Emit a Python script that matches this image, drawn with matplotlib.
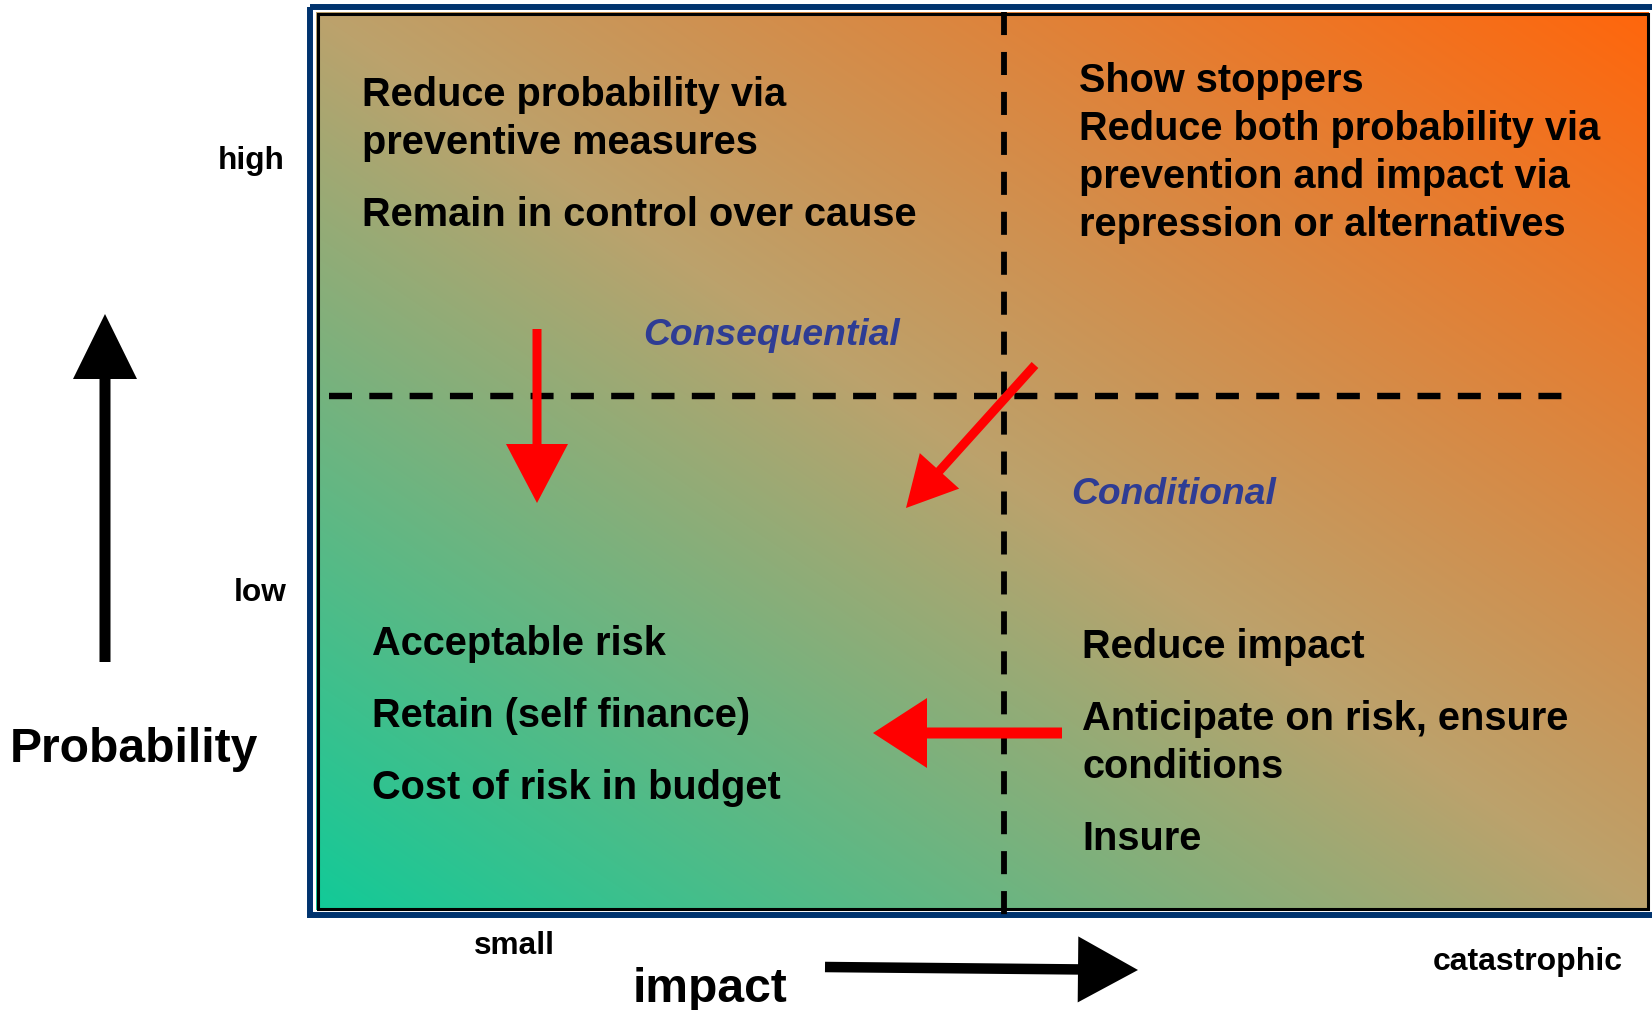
import numpy as np
import matplotlib.pyplot as plt
from matplotlib.patches import FancyArrow, Rectangle
from matplotlib.lines import Line2D

plt.rcParams['font.family'] = ['Liberation Sans', 'DejaVu Sans']

# ---- content ----
q_top_left = ["Reduce probability via", "preventive measures", "Remain in control over cause"]
q_top_right = ["Show stoppers", "Reduce both probability via",
               "prevention and impact via", "repression or alternatives"]
q_bottom_left = ["Acceptable risk", "Retain (self finance)", "Cost of risk in budget"]
q_bottom_right = ["Reduce impact", "Anticipate on risk, ensure", "conditions", "Insure"]
zone_labels = ["Consequential", "Conditional"]
axis_labels = ["Probability", "impact"]
ends_y = ["high", "low"]
ends_x = ["small", "catastrophic"]

# gradient stops (bottom-left -> centre -> top-right)
grad_pos = [0.0, 0.5, 1.0]
grad_rgb = [(18, 202, 152), (188, 162, 108), (255, 102, 12)]

W, H = 1652, 1010
fig = plt.figure(figsize=(W / 100, H / 100), dpi=100)
ax = fig.add_axes([0, 0, 1, 1])
ax.set_xlim(0, W)
ax.set_ylim(H, 0)
ax.axis('off')

# box geometry (pixels)
bx0, bx1, by0, by1 = 316, 1649, 12, 910

# gradient fill
nx, ny = 400, 270
xn = np.linspace(0, 1, nx)[None, :]
yn = np.linspace(1, 0, ny)[:, None]
t = (xn + yn) / 2
img = np.zeros((ny, nx, 3))
for c in range(3):
    img[..., c] = np.interp(t, grad_pos, [g[c] / 255 for g in grad_rgb])
ax.imshow(img, extent=[bx0, bx1, by1, by0], origin='upper', aspect='auto',
          interpolation='bilinear', zorder=1)

# frames
ax.add_patch(Rectangle((310, 7), 1350, 907.5, fill=False, ec='#00336E', lw=4.3, zorder=2))
ax.add_patch(Rectangle((bx0 + 1.5, by0 + 1.5), bx1 - bx0 - 3, by1 - by0 - 3,
                       fill=False, ec='black', lw=2.2, zorder=3))

# dashed quadrant lines
ax.add_line(Line2D([1004, 1004], [12, 925], color='black', lw=4.2,
                   linestyle=(0, (3.95, 2.9)), dash_capstyle='butt', zorder=4))
ax.add_line(Line2D([329, 1562], [396, 396], color='black', lw=4.6,
                   linestyle=(0, (3.6, 2.71)), dash_capstyle='butt', zorder=4))

# arrows: tail x, tail y, tip x, tip y, shaft width, head width, head length, colour
arrows = [
    (105, 662, 105, 314, 11, 64, 65, 'black'),
    (825, 967, 1138, 970, 10.5, 66, 60, 'black'),
    (537, 329, 537, 503, 9, 62, 59, '#FF0000'),
    (1035, 365, 906, 508, 9, 53, 50, '#FF0000'),
    (1062, 733, 873, 733, 11, 70, 54, '#FF0000'),
]
for x0, y0, x1, y1, w, hw, hl, col in arrows:
    ax.add_patch(FancyArrow(x0, y0, x1 - x0, y1 - y0, width=w, head_width=hw,
                            head_length=hl, length_includes_head=True,
                            color=col, lw=0, zorder=5))

# quadrant text
fs = 28.6
def block(lines, x, baselines):
    for s, yb in zip(lines, baselines):
        ax.text(x, yb, s, fontsize=fs, fontweight='bold', ha='left', va='baseline', zorder=6)

block(q_top_left, 362, [106, 154, 226])
block(q_top_right, 1079, [92, 140, 188, 236])
block(q_bottom_left, 372, [655, 727, 799])
block(q_bottom_right, 1082, [658, 730, 778, 850])

ax.text(643, 345, zone_labels[0], fontsize=26.8, fontweight='bold', fontstyle='italic',
        color='#2E3C94', ha='left', va='baseline', zorder=6)
ax.text(1071, 504, zone_labels[1], fontsize=26.8, fontweight='bold', fontstyle='italic',
        color='#2E3C94', ha='left', va='baseline', zorder=6)

# axis labels
ax.text(10, 762, axis_labels[0], fontsize=34.6, fontweight='bold', ha='left', va='baseline')
ax.text(633, 1002, axis_labels[1], fontsize=34.6, fontweight='bold', ha='left', va='baseline')
ax.text(285, 169, ends_y[0], fontsize=22.8, fontweight='bold', ha='right', va='baseline')
ax.text(287, 601, ends_y[1], fontsize=22.8, fontweight='bold', ha='right', va='baseline')
ax.text(514, 954, ends_x[0], fontsize=22.8, fontweight='bold', ha='center', va='baseline')
ax.text(1433, 970, ends_x[1], fontsize=23, fontweight='bold', ha='left', va='baseline')

fig.savefig('out.png', dpi=100)
